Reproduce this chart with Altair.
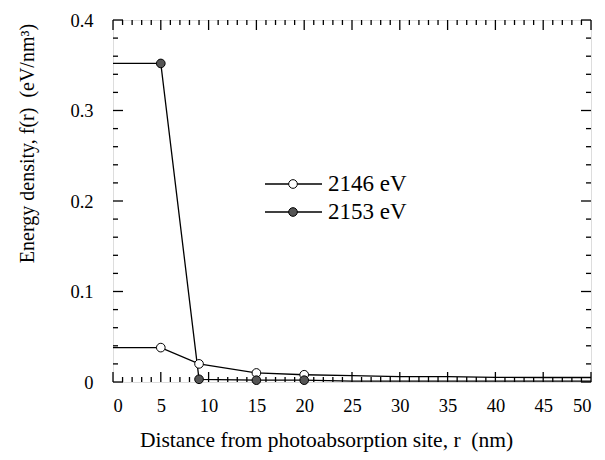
import altair as alt
import pandas as pd

# ---- data ----
r_values = [0, 5, 9, 15, 20, 25, 30, 35, 40, 45, 50]
e_2146 = [0.038, 0.038, 0.020, 0.010, 0.008, 0.007, 0.006, 0.006, 0.005, 0.005, 0.005]
e_2153 = [0.352, 0.352, 0.003, 0.002, 0.002, 0.001, 0.001, 0.001, 0.001, 0.001, 0.001]
marker_r = [5, 9, 15, 20]
series_names = ["2146 eV", "2153 eV"]
series_fill = ["white", "#555555"]

x_major = list(range(0, 51, 5))
x_minor = [v for v in range(0, 51) if v % 5 != 0]
y_major = [0.0, 0.1, 0.2, 0.3, 0.4]
y_minor = [0.02, 0.04, 0.06, 0.08, 0.12, 0.14, 0.16, 0.18, 0.22, 0.24, 0.26, 0.28,
           0.32, 0.34, 0.36, 0.38]

W, H = 478, 362
FONT = "Liberation Serif"
NB = "\u00a0"

rows = []
for name, vals in zip(series_names, [e_2146, e_2153]):
    for r, e in zip(r_values, vals):
        rows.append({"r": r, "e": e, "series": name, "marker": r in marker_r})
df = pd.DataFrame(rows)

xs = alt.Scale(domain=[0, 50], nice=False, zero=False)
ys = alt.Scale(domain=[0, 0.4], nice=False, zero=False)

xaxis = alt.Axis(values=x_major, ticks=False, domain=False, grid=False, labelPadding=14,
                 labelFontSize=18.5, labelFont=FONT, labelColor="black",
                 title="Distance from photoabsorption site, r" + NB * 2 + "(nm)",
                 titleFont=FONT, titleFontSize=21.5, titleFontWeight="normal", titleColor="black",
                 titleX=213, titleY=58, titleAlign="center", titleBaseline="middle")
yaxis = alt.Axis(values=y_major, ticks=False, domain=False, grid=False, labelPadding=20,
                 labelFontSize=18.5, labelFont=FONT, labelColor="black",
                 labelExpr="datum.value == 0 ? '0' : format(datum.value, '.1f')",
                 title="Energy density, f(r)" + NB * 2 + "(eV/nm³)",
                 titleFont=FONT, titleFontSize=20, titleFontWeight="normal", titleColor="black",
                 titleX=-86, titleY=123, titleAngle=-90, titleAlign="center", titleBaseline="middle")

X = alt.X("r:Q", scale=xs, axis=xaxis)
Y = alt.Y("e:Q", scale=ys, axis=yaxis)

lines = alt.Chart(df).mark_line(color="black", strokeWidth=1.3).encode(
    x=X, y=Y, detail="series:N")

points = alt.Chart(df).transform_filter("datum.marker").mark_point(
    shape="circle", filled=True, stroke="black", strokeWidth=1, size=75, opacity=1
).encode(
    x=X, y=Y,
    fill=alt.Fill("series:N", scale=alt.Scale(domain=series_names, range=series_fill), legend=None),
)


def xticks(values, length, top):
    d = pd.DataFrame({"r": values})
    if top:
        yv, y2v = alt.value(0), alt.value(length)
    else:
        yv, y2v = alt.value(H), alt.value(H - length)
    return alt.Chart(d).mark_rule(color="black", strokeWidth=1.3).encode(x=X, y=yv, y2=y2v)


def yticks(values, length, right):
    d = pd.DataFrame({"e": values})
    if right:
        xv, x2v = alt.value(W), alt.value(W - length)
    else:
        xv, x2v = alt.value(0), alt.value(length)
    return alt.Chart(d).mark_rule(color="black", strokeWidth=1.3).encode(y=Y, x=xv, x2=x2v)


tick_layers = [
    xticks(x_major, 10, False), xticks(x_minor, 5, False),
    xticks(x_major, 10, True), xticks(x_minor, 5, True),
    yticks(y_major, 10, False), yticks(y_minor, 5, False),
    yticks(y_major, 10, True), yticks(y_minor, 5, True),
]

one = pd.DataFrame({"a": [0]})
legend_layers = []
for i, (name, fill) in enumerate(zip(series_names, series_fill)):
    yy = 164 + 28 * i
    legend_layers.append(alt.Chart(one).mark_rule(color="black", strokeWidth=1.3).encode(
        x=alt.value(152), x2=alt.value(209), y=alt.value(yy)))
    legend_layers.append(alt.Chart(one).mark_point(
        shape="circle", filled=True, fill=fill, stroke="black", strokeWidth=1, size=75, opacity=1
    ).encode(x=alt.value(180), y=alt.value(yy)))
    legend_layers.append(alt.Chart(one).mark_text(
        align="left", baseline="middle", font=FONT, fontSize=23, color="black"
    ).encode(x=alt.value(215), y=alt.value(yy), text=alt.value(name)))

chart = alt.layer(lines, *tick_layers, points, *legend_layers).properties(
    width=W, height=H,
    autosize="none",
    padding={"left": 105, "top": 12, "right": 6, "bottom": 70},
).configure_view(stroke="black", strokeWidth=1.6).configure(background="white")

chart.save("out.html", embed_options={"renderer": "svg", "actions": False})
